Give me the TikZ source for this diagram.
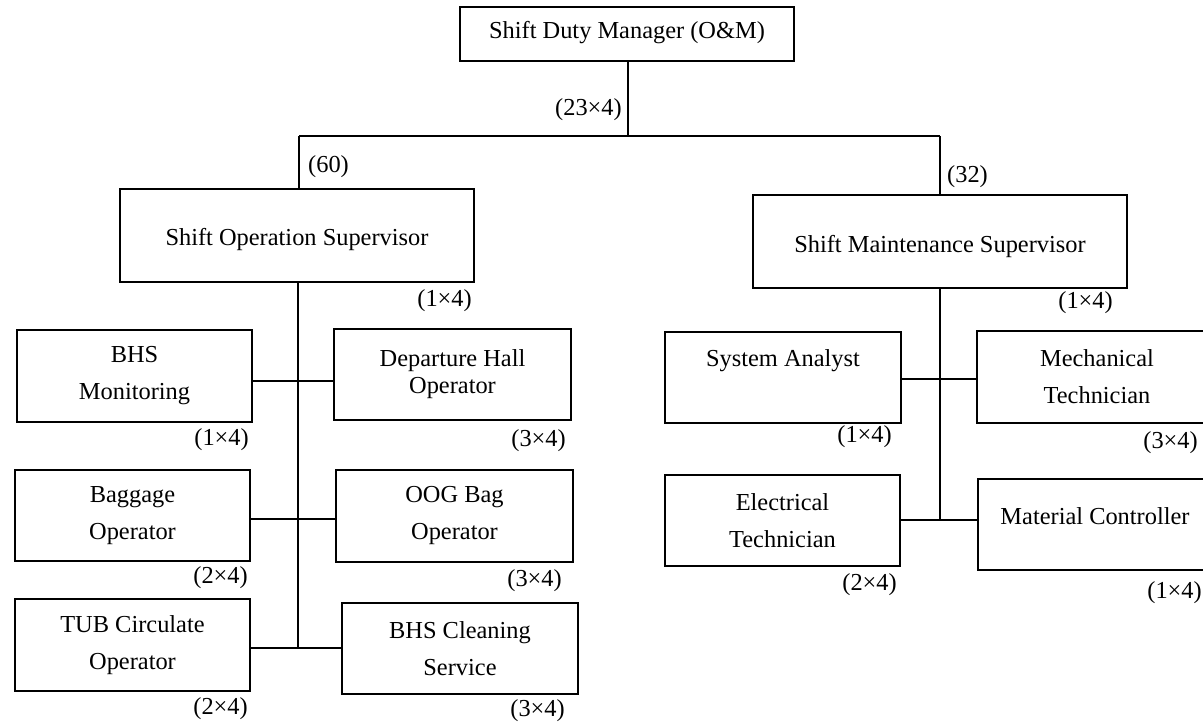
\documentclass[tikz,border=0pt]{standalone}
\usepackage{fontspec}
\setmainfont{Liberation Serif}
\begin{document}
\begin{tikzpicture}[x=1pt,y=-1pt,
  obox/.style={draw, line width=1.6pt, rectangle, inner sep=0pt, align=center,
    font={\fontsize{24.4}{37}\selectfont}},
  tight/.style={font={\fontsize{24.4}{27}\selectfont}},
  cnt/.style={inner sep=0pt, font={\fontsize{24.4}{29}\selectfont}},
  link/.style={line width=1.6pt}]
\useasboundingbox (0,0) rectangle (1203,726);

% boxes
\node[obox, minimum width=334, minimum height=54, text depth=8pt] (sdm) at (627,34) {Shift Duty Manager (O\&M)};
\node[obox, minimum width=354, minimum height=93, text height=26pt] (sos) at (297,235.5) {Shift Operation Supervisor};
\node[obox, minimum width=374, minimum height=93, text height=28pt] (sms) at (940,241.5) {Shift Maintenance Supervisor};

\node[obox, minimum width=235, minimum height=92] (bhs) at (134.5,376) {BHS\\Monitoring};
\node[obox, tight, minimum width=237, minimum height=91] (dep) at (452.5,374.5) {Departure Hall\\Operator};
\node[obox, minimum width=235, minimum height=91] (bag) at (132.5,515.5) {Baggage\\Operator};
\node[obox, minimum width=237, minimum height=92] (oog) at (454.5,516) {OOG Bag\\Operator};
\node[obox, minimum width=235, minimum height=92] (tub) at (132.5,645) {TUB Circulate\\Operator};
\node[obox, minimum width=236, minimum height=91] (cln) at (460,648.5) {BHS Cleaning\\Service};

\node[obox, minimum width=236, minimum height=91, text depth=38pt] (sya) at (783,377.5) {System Analyst};
\node[obox, minimum width=240, minimum height=92] (mec) at (1097,377) {Mechanical\\Technician};
\node[obox, minimum width=235, minimum height=91] (ele) at (782.5,520.5) {Electrical\\Technician};
\node[obox, minimum width=234, minimum height=91, text depth=16pt] (mat) at (1095,524.5) {Material Controller};

% junction coordinates
\coordinate (jt) at (628,136);
\coordinate (jl) at (299,136);
\coordinate (jr) at (940,136);
\coordinate (l1) at (298,381);
\coordinate (l2) at (298,519);
\coordinate (l3) at (298,648);
\coordinate (r1) at (940,379);
\coordinate (r2) at (940,520);

% connectors
\draw[link] (sdm.south -| jt) -- (jt);
\draw[link] (jl) -- (jr);
\draw[link] (jl) -- (jl |- sos.north);
\draw[link] (jr) -- (jr |- sms.north);

\draw[link] (sos.south -| l1) -- (l3);
\draw[link] (l1 -| bhs.east) -- (l1 -| dep.west);
\draw[link] (l2 -| bag.east) -- (l2 -| oog.west);
\draw[link] (l3 -| tub.east) -- (l3 -| cln.west);

\draw[link] (sms.south -| r1) -- (r2);
\draw[link] (r1 -| sya.east) -- (r1 -| mec.west);
\draw[link] (r2 -| ele.east) -- (r2 -| mat.west);

% counts
\node[cnt, anchor=east] (c0) at (622,110) {(23×4)};
\node[cnt, anchor=west] (c1) at (308,167) {(60)};
\node[cnt, anchor=west] (c2) at (947,177) {(32)};
\node[cnt, anchor=east] (c3) at (472,301) {(1×4)};
\node[cnt, anchor=east] (c4) at (1113,303) {(1×4)};
\node[cnt, anchor=east] (c5) at (249,440) {(1×4)};
\node[cnt, anchor=east] (c6) at (566,441) {(3×4)};
\node[cnt, anchor=east] (c7) at (248,578) {(2×4)};
\node[cnt, anchor=east] (c8) at (562,581) {(3×4)};
\node[cnt, anchor=east] (c9) at (248,709) {(2×4)};
\node[cnt, anchor=east] (c10) at (565,711) {(3×4)};
\node[cnt, anchor=east] (c11) at (892,437) {(1×4)};
\node[cnt, anchor=east] (c12) at (1198,443) {(3×4)};
\node[cnt, anchor=east] (c13) at (897,585) {(2×4)};
\node[cnt, anchor=east] (c14) at (1202,593) {(1×4)};
\end{tikzpicture}
\end{document}
